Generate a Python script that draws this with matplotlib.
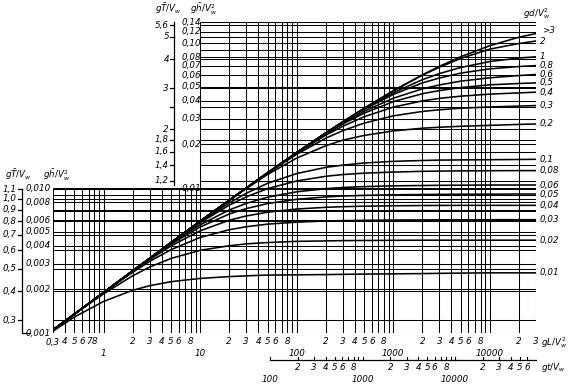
import matplotlib
matplotlib.use("Agg")
import matplotlib.pyplot as plt
import matplotlib.transforms as mtransforms
import numpy as np

# dimensionless fetch gL/V^2 at which the curves are read
gL = [0.3, 0.5, 1, 2, 3, 5, 10, 20, 30, 50, 100, 200, 300, 500,
      1000, 2000, 3000, 5000, 10000, 20000, 30000]

# mean wave height gh/V^2 for each relative depth gd/V^2
h_d3 = [0.00105, 0.00135, 0.0019, 0.00268, 0.00327, 0.00421, 0.0059, 0.00825, 0.0100, 0.01276, 0.0176,
        0.02405, 0.0287, 0.0356, 0.0470, 0.0605, 0.0692, 0.0807, 0.0961, 0.1100, 0.1165]
h_d2 = [0.00105, 0.00135, 0.0019, 0.00268, 0.00327, 0.00421, 0.0059, 0.00825, 0.0100, 0.01276, 0.0176,
        0.02405, 0.0287, 0.0356, 0.0469, 0.0601, 0.0683, 0.0785, 0.0910, 0.0995, 0.1035]
h_d1 = [0.00105, 0.00135, 0.0019, 0.00268, 0.00327, 0.00421, 0.0059, 0.00825, 0.0100, 0.01276, 0.0176,
        0.0240, 0.0286, 0.0353, 0.0455, 0.0560, 0.0617, 0.0680, 0.0747, 0.0790, 0.0805]
h_d08 = [0.00105, 0.00135, 0.0019, 0.00268, 0.00327, 0.00421, 0.0059, 0.00825, 0.0100, 0.01276, 0.0176,
         0.0240, 0.0285, 0.0349, 0.0443, 0.0532, 0.0575, 0.0622, 0.0665, 0.0690, 0.0700]
h_d06 = [0.00105, 0.00135, 0.0019, 0.00268, 0.00327, 0.00421, 0.0059, 0.00825, 0.0100, 0.01276, 0.0176,
         0.0239, 0.0281, 0.0339, 0.0417, 0.0484, 0.0515, 0.0547, 0.0577, 0.0598, 0.0608]
h_d05 = [0.00105, 0.00135, 0.0019, 0.00268, 0.00327, 0.00421, 0.0059, 0.00825, 0.0100, 0.01276, 0.0175,
         0.0236, 0.0277, 0.0329, 0.0395, 0.0448, 0.0471, 0.0494, 0.0516, 0.0527, 0.0532]
h_d04 = [0.00105, 0.00135, 0.0019, 0.00268, 0.00327, 0.00421, 0.0059, 0.00825, 0.0100, 0.01275, 0.0174,
         0.0232, 0.0267, 0.0311, 0.0362, 0.0400, 0.0416, 0.0431, 0.0445, 0.0454, 0.0459]
h_d03 = [0.00105, 0.00135, 0.0019, 0.00268, 0.00327, 0.00421, 0.0059, 0.00825, 0.0100, 0.0127, 0.0171,
         0.0221, 0.0249, 0.0281, 0.0315, 0.0338, 0.0347, 0.0356, 0.0363, 0.0368, 0.0371]
h_d02 = [0.00105, 0.00135, 0.0019, 0.00268, 0.00327, 0.00421, 0.0059, 0.00823, 0.0099, 0.01243, 0.0161,
         0.0196, 0.0214, 0.0231, 0.0248, 0.0259, 0.0263, 0.0267, 0.0271, 0.0275, 0.0277]
h_d01 = [0.00105, 0.00135, 0.0019, 0.00268, 0.00327, 0.0042, 0.00585, 0.0079, 0.0092, 0.0108, 0.0126,
         0.0139, 0.0144, 0.0149, 0.0153, 0.0155, 0.0156, 0.01565, 0.0157, 0.01575, 0.0158]
h_d008 = [0.00105, 0.00135, 0.0019, 0.00268, 0.00327, 0.00419, 0.00577, 0.00762, 0.0087, 0.00992, 0.0112,
          0.01206, 0.0124, 0.01268, 0.0129, 0.01305, 0.0131, 0.01314, 0.01318, 0.0132, 0.0132]
h_d006 = [0.00105, 0.00135, 0.0019, 0.00268, 0.00326, 0.00415, 0.00558, 0.00706, 0.00784, 0.00865, 0.00943,
          0.00991, 0.0101, 0.01024, 0.01036, 0.01042, 0.01045, 0.01047, 0.0105, 0.0105, 0.0105]
h_d005 = [0.00105, 0.00135, 0.0019, 0.002675, 0.00325, 0.0041, 0.00539, 0.00662, 0.00722, 0.00782, 0.00837,
          0.00869, 0.00881, 0.00891, 0.00899, 0.00903, 0.00905, 0.00907, 0.00908, 0.0091, 0.0091]
h_d004 = [0.00105, 0.00135, 0.0019, 0.00266, 0.00321, 0.00399, 0.00507, 0.0060, 0.00642, 0.00682, 0.00717,
          0.00737, 0.00744, 0.0075, 0.00755, 0.00758, 0.00759, 0.0076, 0.0076, 0.0076, 0.0076]
h_d003 = [0.00105, 0.00135, 0.0019, 0.00262, 0.00312, 0.00376, 0.00456, 0.00516, 0.00541, 0.00564, 0.00582,
          0.00593, 0.00596, 0.00599, 0.00602, 0.00603, 0.00604, 0.00604, 0.00605, 0.00605, 0.00605]
h_d002 = [0.00105, 0.00135, 0.00186, 0.00248, 0.00285, 0.00327, 0.00372, 0.00400, 0.00412, 0.00421, 0.00429,
          0.00432, 0.00434, 0.00435, 0.00436, 0.00437, 0.00437, 0.00437, 0.00437, 0.00437, 0.00437]
h_d001 = [0.00103, 0.00129, 0.00165, 0.00197, 0.00212, 0.00226, 0.00238, 0.00245, 0.00248, 0.00251, 0.00252,
          0.00253, 0.00254, 0.00255, 0.00256, 0.00257, 0.00258, 0.00259, 0.0026, 0.0026, 0.0026]

depth_labels = [">3", "2", "1", "0,8", "0,6", "0,5", "0,4", "0,3", "0,2",
                "0,1", "0,08", "0,06", "0,05", "0,04", "0,03", "0,02", "0,01"]
curves = [h_d3, h_d2, h_d1, h_d08, h_d06, h_d05, h_d04, h_d03, h_d02,
          h_d01, h_d008, h_d006, h_d005, h_d004, h_d003, h_d002, h_d001]

# left scales
T_low = [0.3, 0.4, 0.5, 0.6, 0.7, 0.8, 0.9, 1.0, 1.1]
T_low_labels = ["0,3", "0,4", "0,5", "0,6", "0,7", "0,8", "0,9", "1,0", "1,1"]
h_low = [0.001, 0.002, 0.003, 0.004, 0.005, 0.006, 0.008, 0.010]
h_low_labels = ["0,001", "0,002", "0,003", "0,004", "0,005", "0,006", "0,008", "0,010"]
T_up = [1.2, 1.4, 1.6, 1.8, 2, 2.5, 3, 4, 5, 5.6]
T_up_labels = ["1,2", "1,4", "1,6", "1,8", "2", "", "3", "4", "5", "5,6"]
h_up = [0.01, 0.02, 0.03, 0.04, 0.05, 0.06, 0.07, 0.08, 0.10, 0.12, 0.14]
h_up_labels = ["0,01", "0,02", "0,03", "0,04", "0,05", "0,06", "0,07", "0,08", "0,10", "0,12", "0,14"]

# bottom scales
gL_minor = [0.3, 0.4, 0.5, 0.6, 0.7, 0.8,
            2, 3, 4, 5, 6, 8, 20, 30, 40, 50, 60, 80,
            200, 300, 400, 500, 600, 800, 2000, 3000, 4000, 5000, 6000, 8000,
            20000, 30000]
gL_minor_labels = ["0,3", "4", "5", "6", "7", "8"] + ["2", "3", "4", "5", "6", "8"] * 4 + ["2", "3"]
gL_major = [1, 10, 100, 1000, 10000]
gt_minor = [200, 300, 400, 500, 600, 800, 2000, 3000, 4000, 5000, 6000, 8000,
            20000, 30000, 40000, 50000, 60000]
gt_minor_labels = ["2", "3", "4", "5", "6", "8"] * 2 + ["2", "3", "4", "5", "6"]
gt_major = [100, 1000, 10000]


def T2h(T):
    return (T / 19.8) ** 1.6


def gt2gL(t):
    return 10 ** ((np.log10(t) - 0.2005) / 1.044)


W, H = 568, 384
X0, X1, Y0, Y1 = 53, 536, 22, 333

fig = plt.figure(figsize=(W / 100, H / 100), dpi=100)
ax = fig.add_axes([X0 / W, 1 - Y1 / H, (X1 - X0) / W, (Y1 - Y0) / H])
ax.set_xscale("log")
ax.set_yscale("log")
ax.set_xlim(0.3, 30000)
ax.set_ylim(0.001, 0.14)
ax.axis("off")

fs = 6.3
txt = dict(fontsize=fs, style="italic", color="black", clip_on=False)


def axx(px):
    return (px - X0) / (X1 - X0)


def axy(py):
    return (Y1 - py) / (Y1 - Y0)


xa_yd = mtransforms.blended_transform_factory(ax.transAxes, ax.transData)
xd_ya = mtransforms.blended_transform_factory(ax.transData, ax.transAxes)

# grid
xgrid = [m * 10.0 ** e for e in range(-1, 5) for m in range(1, 10)]
xgrid = [x for x in xgrid if 0.3 - 1e-9 <= x <= 30000 + 1e-6]
for x in xgrid:
    ax.vlines(x, 0.001, 0.14 if x >= 10 - 1e-9 else 0.01, color="black", lw=0.75)

hgrid = [k * 0.001 for k in range(1, 10)] + [k * 0.01 for k in range(1, 10)] + [0.1, 0.12, 0.14]
tgrid = [T2h(t) for t in T_low + T_up]
for y in hgrid + tgrid:
    ax.hlines(y, 0.3 if y <= 0.01 + 1e-9 else 10, 30000, color="black", lw=0.75)

# curves
for h, lab in zip(curves, depth_labels):
    ax.plot(gL, h, color="black", lw=1.15, solid_capstyle="round", solid_joinstyle="round")
    tr = xa_yd
    if lab == ">3":
        tr = mtransforms.offset_copy(xa_yd, fig=fig, x=2, y=3, units="dots")
    ax.text(axx(540), h[-1], lab, transform=tr, ha="left", va="center", **txt)

# lower left scale
ax.plot([axx(22)] * 2, [0.001, T2h(1.1)], transform=xa_yd, color="black", lw=0.9, clip_on=False)
for t, lab in zip(T_low, T_low_labels):
    ax.plot([axx(18), axx(22)], [T2h(t)] * 2, transform=xa_yd, color="black", lw=0.9, clip_on=False)
    ax.text(axx(17), T2h(t), lab, transform=xa_yd, ha="right", va="center", **txt)
ax.plot([axx(22), axx(30)], [0.001] * 2, transform=xa_yd, color="black", lw=0.9, clip_on=False)
for v, lab in zip(h_low, h_low_labels):
    ax.text(axx(51), v, lab, transform=xa_yd, ha="right", va="center", **txt)

# upper left scale
ax.plot([axx(174)] * 2, [0.0105, 0.14], transform=xa_yd, color="black", lw=0.9, clip_on=False)
for t, lab in zip(T_up, T_up_labels):
    ax.plot([axx(170), axx(174)], [T2h(t)] * 2, transform=xa_yd, color="black", lw=0.9, clip_on=False)
    ax.text(axx(169), T2h(t), lab, transform=xa_yd, ha="right", va="center", **txt)
for v, lab in zip(h_up, h_up_labels):
    ax.text(axx(182), v, lab, transform=xa_yd, ha="left", va="center", **txt)

# bottom gL scale
for x, lab in zip(gL_minor, gL_minor_labels):
    ax.text(x, axy(342), lab, transform=xd_ya, ha="center", va="center", **txt)
for x in gL_major:
    ax.text(x, axy(353), f"{x}", transform=xd_ya, ha="center", va="center", **txt)

# bottom gt scale
ax.plot([gt2gL(100), 30000], [axy(360)] * 2, transform=xd_ya, color="black", lw=0.9, clip_on=False)
for t in gt_major + gt_minor + [700, 900, 7000, 9000]:
    ax.plot([gt2gL(t)] * 2, [axy(360), axy(357)], transform=xd_ya, color="black", lw=0.8, clip_on=False)
for t, lab in zip(gt_minor, gt_minor_labels):
    ax.text(gt2gL(t), axy(368), lab, transform=xd_ya, ha="center", va="center", **txt)
for t in gt_major:
    ax.text(gt2gL(t), axy(379), f"{t}", transform=xd_ya, ha="center", va="center", **txt)

# scale titles
fig.text(18 / W, 1 - 175 / H, r"$g\bar{T}/V_w$", ha="center", va="center", fontsize=fs)
fig.text(57 / W, 1 - 175 / H, r"$g\bar{h}/V_w^2$", ha="center", va="center", fontsize=fs)
fig.text(168 / W, 1 - 9 / H, r"$g\bar{T}/V_w$", ha="center", va="center", fontsize=fs)
fig.text(204 / W, 1 - 9 / H, r"$g\bar{h}/V_w^2$", ha="center", va="center", fontsize=fs)
fig.text(537 / W, 1 - 14 / H, r"$gd/V_w^2$", ha="center", va="center", fontsize=fs)
fig.text(541 / W, 1 - 343 / H, r"$gL/V_w^2$", ha="left", va="center", fontsize=fs)
fig.text(541 / W, 1 - 368 / H, r"$gt/V_w$", ha="left", va="center", fontsize=fs)

fig.savefig("out.png", dpi=100)
